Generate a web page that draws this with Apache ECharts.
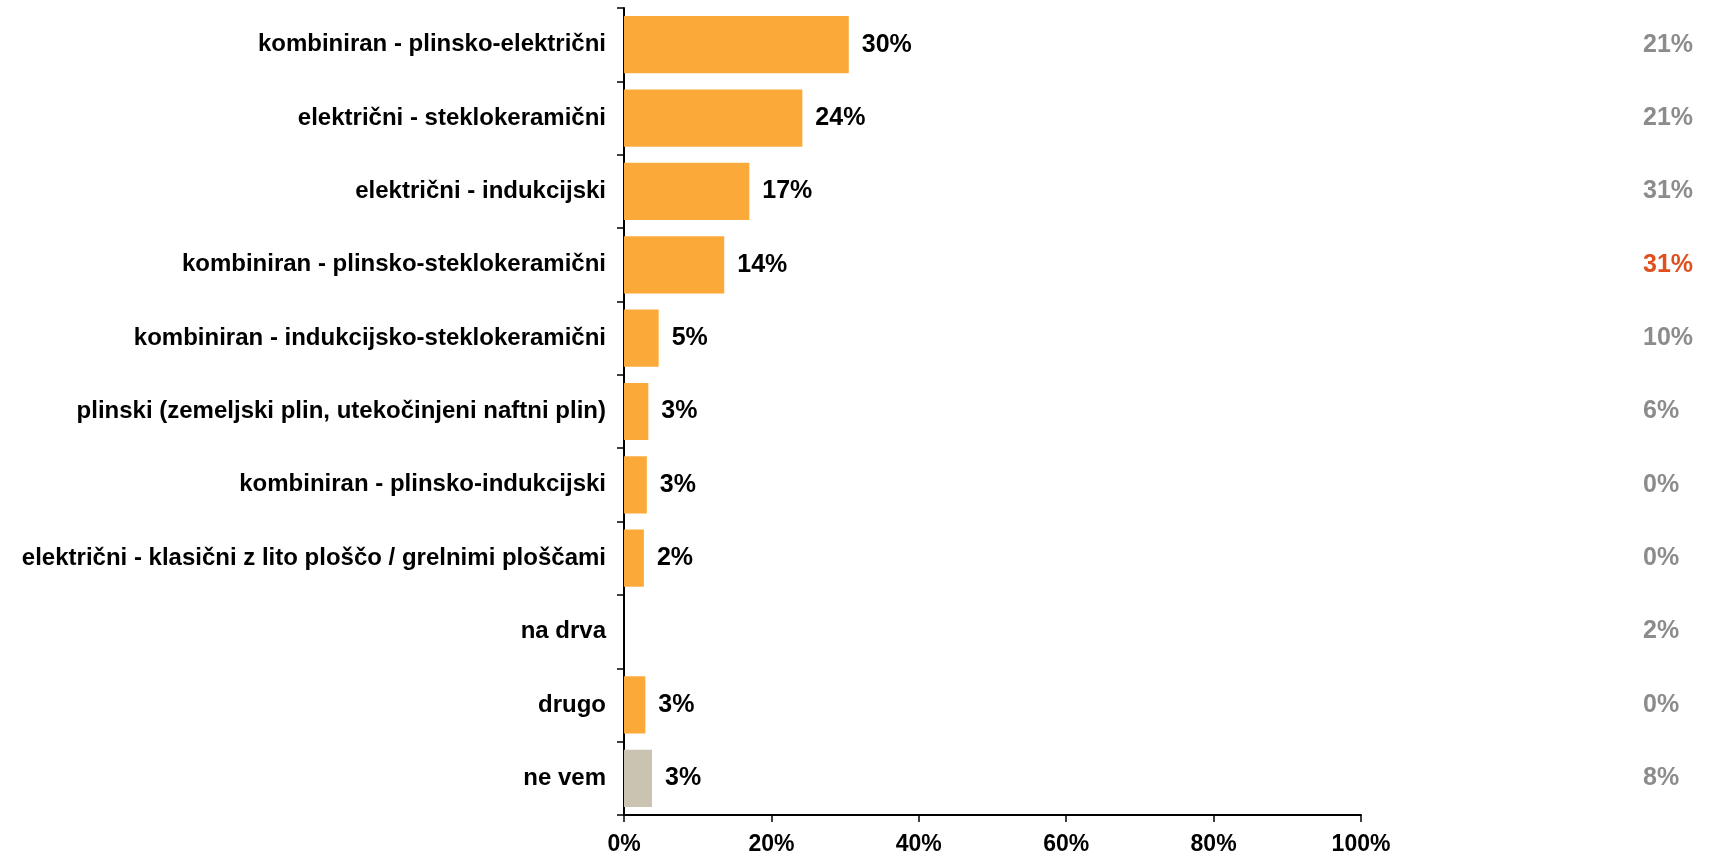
<!DOCTYPE html>
<html>
<head>
<meta charset="utf-8">
<script src="https://cdn.jsdelivr.net/npm/echarts@6/dist/echarts.min.js"></script>
<style>
  html, body { margin: 0; padding: 0; background: #fff; }
  #chart { width: 1710px; height: 855px; }
</style>
</head>
<body>
<div id="chart"></div>
<script>
// kategorije (od zgoraj navzdol)
var categories = [
  'kombiniran - plinsko-električni',
  'električni - steklokeramični',
  'električni - indukcijski',
  'kombiniran - plinsko-steklokeramični',
  'kombiniran - indukcijsko-steklokeramični',
  'plinski (zemeljski plin, utekočinjeni naftni plin)',
  'kombiniran - plinsko-indukcijski',
  'električni - klasični z lito ploščo / grelnimi ploščami',
  'na drva',
  'drugo',
  'ne vem'
];
// dolzine stolpcev (%), odcitane s slike
var values = [30.5, 24.2, 17.0, 13.6, 4.7, 3.3, 3.1, 2.7, 0, 2.9, 3.8];
// napisi ob stolpcih
var barLabels = [30, 24, 17, 14, 5, 3, 3, 2, null, 3, 3];
// desni stolpec (primerjava)
var compare = [21, 21, 31, 31, 10, 6, 0, 0, 2, 0, 8];
var highlightIndex = 3;
var xTicks = [0, 20, 40, 60, 80, 100];

var myChart = echarts.init(document.getElementById('chart'));

var barData = values.map(function (v, i) {
  return {
    value: v,
    itemStyle: { color: categories[i] === 'ne vem' ? '#cbc3b2' : '#fbaa3a' }
  };
});

var option = {
  animation: false,
  grid: {
    left: 624,
    right: 349,
    top: 8,
    bottom: 40,
    containLabel: false,
    outerBoundsMode: 'none'
  },
  xAxis: {
    type: 'value',
    min: xTicks[0],
    max: xTicks[xTicks.length - 1],
    interval: 20,
    splitLine: { show: false },
    axisLine: { show: true, lineStyle: { color: '#000', width: 2 } },
    axisTick: { show: true, length: 7, lineStyle: { color: '#000', width: 1.5 } },
    axisLabel: {
      margin: 18,
      color: '#000',
      fontFamily: '"Liberation Sans Narrow", "Arial Narrow", "Liberation Sans", sans-serif',
      fontWeight: 'bold',
      fontSize: 23,
      formatter: '{value}%'
    }
  },
  yAxis: [{
    type: 'category',
    inverse: true,
    data: categories,
    axisLine: { show: true, lineStyle: { color: '#000', width: 2 } },
    axisTick: { show: true, length: 7, lineStyle: { color: '#000', width: 1.5 } },
    axisLabel: {
      margin: 18,
      color: '#000',
      fontFamily: '"Liberation Sans", Arial, sans-serif',
      fontWeight: 'bold',
      fontSize: 24
    }
  }, {
    type: 'category',
    inverse: true,
    position: 'right',
    offset: 282,
    data: categories,
    axisLine: { show: false },
    axisTick: { show: false },
    axisLabel: {
      margin: 0,
      align: 'left',
      fontFamily: '"Liberation Sans", Arial, sans-serif',
      fontWeight: 'bold',
      fontSize: 25,
      formatter: function (v, i) { return compare[i] + '%'; },
      color: function (v, i) { return i === highlightIndex ? '#e0501e' : '#8c8c8c'; }
    }
  }],
  series: [{
    type: 'bar',
    yAxisIndex: 0,
    data: barData,
    barCategoryGap: '22%',
    label: {
      show: true,
      position: 'right',
      distance: 13,
      color: '#000',
      fontFamily: '"Liberation Sans", Arial, sans-serif',
      fontWeight: 'bold',
      fontSize: 25,
      formatter: function (p) {
        var t = barLabels[p.dataIndex];
        return t === null ? '' : t + '%';
      }
    }
  }]
};

myChart.setOption(option);
</script>
</body>
</html>
